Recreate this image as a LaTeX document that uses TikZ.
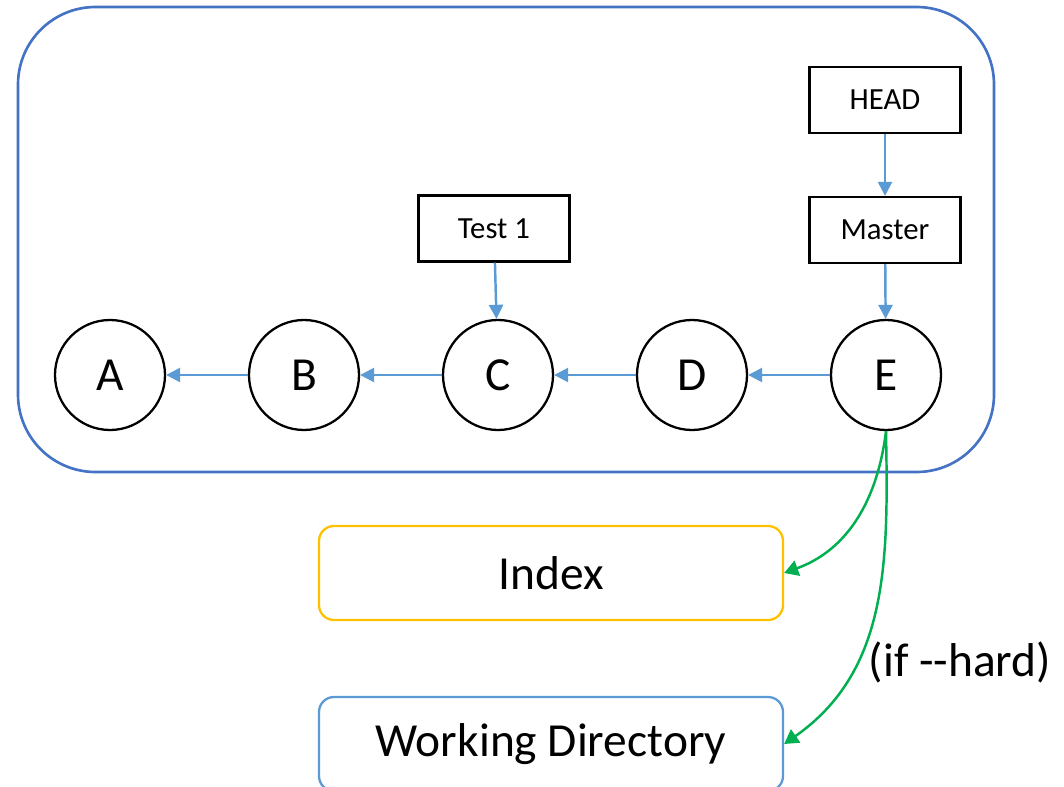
\documentclass[tikz,border=0pt]{standalone}
\usepackage{fontspec}
\setmainfont{Carlito}
\usetikzlibrary{arrows.meta}

\definecolor{frameblue}{HTML}{4472C4}
\definecolor{linkblue}{HTML}{5B9BD5}
\definecolor{idxorange}{HTML}{FFC000}
\definecolor{resetgreen}{HTML}{00B050}

\tikzset{
	commit/.style={circle,draw=black,line width=1.3pt,minimum size=2.2cm,inner sep=0pt,font=\fontsize{27}{30}\selectfont},
	ref/.style={rectangle,draw=black,line width=1.3pt,minimum width=3.02cm,minimum height=1.32cm,font=\fontsize{17.5}{20}\selectfont},
	area/.style={rectangle,rounded corners=0.3cm,line width=1.3pt,minimum width=9.28cm,minimum height=1.88cm,font=\fontsize{27}{30}\selectfont},
	link/.style={-{Triangle[length=8pt,width=8pt]},draw=linkblue,line width=1.4pt},
	reset/.style={-{Triangle[length=8pt,width=9pt]},draw=resetgreen,line width=1.4pt}
}

\begin{document}
\begin{tikzpicture}
	\useasboundingbox (0,0) rectangle (21.28,-15.74);
	% repository frame
	\draw[frameblue,line width=1.5pt,rounded corners=1.55cm] (0.36,-0.14) rectangle (19.88,-9.44);

	% commits
	\node[commit] (A) at (2.2,-7.5) {A};
	\node[commit] (B) at (6.08,-7.5) {B};
	\node[commit] (C) at (9.96,-7.5) {C};
	\node[commit] (D) at (13.84,-7.5) {D};
	\node[commit] (E) at (17.72,-7.5) {E};
	\foreach \a/\b in {B/A,C/B,D/C,E/D}
	\draw[link] (\a) -- (\b);

	% refs
	\node[ref] (test) at (9.88,-4.57) {Test 1};
	\node[ref] (head) at (17.7,-2.0) {HEAD};
	\node[ref] (master) at (17.7,-4.6) {Master};
	\draw[link] (test) -- (C);
	\draw[link] (head) -- (master);
	\draw[link] (master) -- (E);

	% index and working tree
	\node[area,draw=idxorange] (index) at (11.02,-11.46) {Index};
	\node[area,draw=linkblue] (wd) at (11.02,-14.88) {Working Directory};
	\draw[reset] (E.south) to[out=-97,in=20] (index.east);
	\draw[reset] (E.south) to[out=-89,in=35] (wd.east);
	\node[font=\fontsize{27}{29}\selectfont] (hard) at (19.2,-13.24) {(if -{}-hard)};
\end{tikzpicture}
\end{document}
